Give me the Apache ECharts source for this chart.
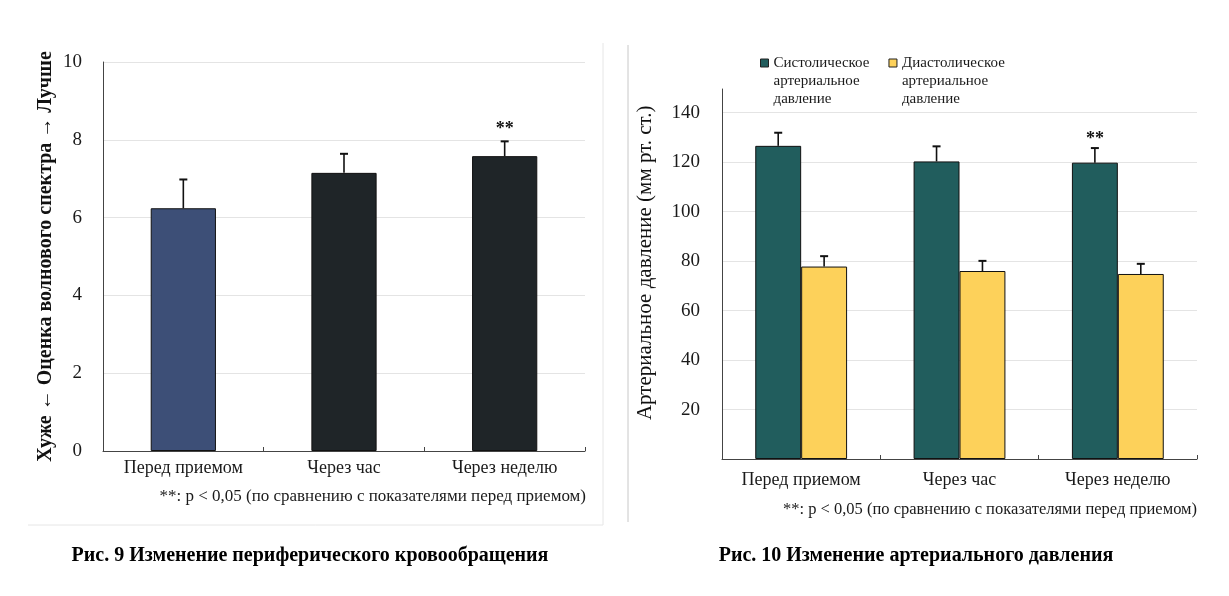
<!DOCTYPE html>
<html>
<head>
<meta charset="utf-8">
<script src="https://cdn.jsdelivr.net/npm/echarts@6/dist/echarts.min.js"></script>
<style>
html,body{margin:0;padding:0;background:#fff;}
#chart{width:1229px;height:596px;}
</style>
</head>
<body>
<div id="chart"></div>
<script>
// ---------- Data ----------
const categories = ['Перед приемом', 'Через час', 'Через неделю'];

// Fig. 9: peripheral circulation (wave spectrum score)
const waveMean = [6.24, 7.15, 7.58];
const waveErr  = [0.74, 0.49, 0.38];
const waveSig  = ['', '', '**'];
const waveColors = ['#3d4f77', '#1f2528', '#1f2528'];
const leftTicks = [0, 2, 4, 6, 8, 10];

// Fig. 10: blood pressure
const sysName = 'Систолическое\nартериальное\nдавление';
const diaName = 'Диастолическое\nартериальное\nдавление';
const sysMean = [126.6, 120.3, 119.8];
const sysErr  = [5.3, 6.1, 5.9];
const sysSig  = ['', '', '**'];
const diaMean = [77.8, 76.0, 74.8];
const diaErr  = [4.2, 4.1, 4.1];
const diaSig  = ['', '', ''];
const rightTicks = [0, 20, 40, 60, 80, 100, 120, 140];

const footnote = '**: p < 0,05 (по сравнению с показателями перед приемом)';
const caption9 = 'Рис. 9 Изменение периферического кровообращения';
const caption10 = 'Рис. 10 Изменение артериального давления';

// ---------- Helpers ----------
const FONT = '"Liberation Serif", "DejaVu Serif", serif';
const TXT = '#1a1a1a';

function errRenderer(offsetFrac, sigArr, capHalf, sigGap) {
  return function (params, api) {
    const i = api.value(0), v = api.value(1), e = api.value(2);
    const base = api.coord([i, v]);
    const top = api.coord([i, v + e]);
    const bw = api.size([1, 0])[0];
    const x = base[0] + offsetFrac * bw;
    const children = [
      { type: 'line', shape: { x1: x, y1: base[1], x2: x, y2: top[1] },
        style: { stroke: '#111', lineWidth: 1.6 } },
      { type: 'line', shape: { x1: x - capHalf, y1: top[1], x2: x + capHalf, y2: top[1] },
        style: { stroke: '#111', lineWidth: 2 } }
    ];
    const s = sigArr[params.dataIndex];
    if (s) {
      children.push({ type: 'text', style: {
        text: s, x: x, y: top[1] - sigGap, align: 'center', verticalAlign: 'bottom',
        font: 'bold 18px ' + FONT, fill: '#111' } });
    }
    return { type: 'group', children: children };
  };
}

function errData(mean, err) {
  return mean.map((m, i) => [i, m, err[i]]);
}

const axisLineStyle = { color: '#444', width: 1 };
const gridLineStyle = { color: '#e4e4e4', width: 1 };

const chart = echarts.init(document.getElementById('chart'), null, { renderer: 'canvas' });

const option = {
  backgroundColor: '#ffffff',
  animation: false,
  textStyle: { fontFamily: FONT },
  legend: {
    data: [sysName, diaName],
    left: 760, top: 18, padding: 0,
    itemWidth: 8, itemHeight: 8, itemGap: 19,
    icon: 'rect',
    itemStyle: { borderColor: '#222', borderWidth: 1 },
    // two empty lines on top so the first text line sits level with the icon
    formatter: name => '\n\n' + name,
    textStyle: { fontFamily: FONT, fontSize: 15, color: TXT, lineHeight: 18 },
    selectedMode: false
  },
  grid: [
    { left: 103, top: 62, width: 482, height: 389 },
    { left: 722, top: 112.7, width: 475, height: 346.3 },
    { left: 722, top: 89, width: 475, height: 370 }
  ],
  xAxis: [
    { type: 'category', gridIndex: 0, data: categories,
      axisLine: { lineStyle: axisLineStyle },
      axisTick: { show: true, inside: true, length: 4, lineStyle: axisLineStyle },
      axisLabel: { fontFamily: FONT, fontSize: 18, color: TXT, margin: 8 } },
    { type: 'category', gridIndex: 1, data: categories,
      axisLine: { lineStyle: axisLineStyle },
      axisTick: { show: true, inside: true, length: 4, lineStyle: axisLineStyle },
      axisLabel: { fontFamily: FONT, fontSize: 18, color: TXT, margin: 12 } },
    { type: 'category', gridIndex: 2, data: categories, show: false }
  ],
  yAxis: [
    { type: 'value', gridIndex: 0, min: leftTicks[0], max: leftTicks[leftTicks.length - 1], interval: 2,
      axisLine: { show: true, lineStyle: axisLineStyle },
      axisTick: { show: false },
      splitLine: { show: true, lineStyle: gridLineStyle },
      axisLabel: { fontFamily: FONT, fontSize: 19, color: TXT, margin: 21 },
      name: 'Хуже ← Оценка волнового спектра → Лучше',
      nameLocation: 'middle', nameGap: 47,
      nameTextStyle: { fontFamily: FONT, fontSize: 20, fontWeight: 'bold', color: '#111' } },
    { type: 'value', gridIndex: 1, min: rightTicks[0], max: rightTicks[rightTicks.length - 1], interval: 20,
      axisLine: { show: false },
      axisTick: { show: false },
      splitLine: { show: true, lineStyle: gridLineStyle },
      axisLabel: { fontFamily: FONT, fontSize: 19, color: TXT, margin: 22,
        formatter: v => (v === 0 ? '' : String(v)) },
      name: 'Артериальное давление (мм рт. ст.)',
      nameLocation: 'middle', nameGap: 66,
      nameTextStyle: { fontFamily: FONT, fontSize: 21, color: '#111', padding: [0, 0, 0, 46] } },
    { type: 'value', gridIndex: 2, min: 0, max: 1,
      axisLine: { show: true, lineStyle: axisLineStyle },
      axisTick: { show: false }, axisLabel: { show: false }, splitLine: { show: false } }
  ],
  series: [
    { type: 'bar', name: 'wave', xAxisIndex: 0, yAxisIndex: 0, barWidth: '40.6%',
      data: waveMean.map((v, i) => ({ value: v, itemStyle: { color: waveColors[i] } })),
      itemStyle: { borderColor: '#111', borderWidth: 1 } },
    { type: 'custom', xAxisIndex: 0, yAxisIndex: 0, z: 5,
      renderItem: errRenderer(0, waveSig, 4, 3),
      data: errData(waveMean, waveErr) },
    { type: 'bar', name: sysName, xAxisIndex: 1, yAxisIndex: 1,
      barCategoryGap: '42%', barGap: '0%',
      itemStyle: { color: '#215d5d', borderColor: '#111', borderWidth: 1 },
      data: sysMean },
    { type: 'bar', name: diaName, xAxisIndex: 1, yAxisIndex: 1,
      barCategoryGap: '42%', barGap: '0%',
      itemStyle: { color: '#fdd15a', borderColor: '#111', borderWidth: 1 },
      data: diaMean },
    { type: 'custom', xAxisIndex: 1, yAxisIndex: 1, z: 5,
      renderItem: errRenderer(-0.145, sysSig, 4, 0),
      data: errData(sysMean, sysErr) },
    { type: 'custom', xAxisIndex: 1, yAxisIndex: 1, z: 5,
      renderItem: errRenderer(0.145, diaSig, 4, 0),
      data: errData(diaMean, diaErr) }
  ],
  graphic: [
    { type: 'line', shape: { x1: 603, y1: 43, x2: 603, y2: 525 }, style: { stroke: '#e6e6e6', lineWidth: 1 } },
    { type: 'line', shape: { x1: 28, y1: 525, x2: 603, y2: 525 }, style: { stroke: '#e6e6e6', lineWidth: 1 } },
    { type: 'line', shape: { x1: 628, y1: 45, x2: 628, y2: 522 }, style: { stroke: '#c8c8c8', lineWidth: 1 } },
    { type: 'text', style: { text: footnote, x: 586, y: 497, align: 'right', verticalAlign: 'middle',
        font: '17px ' + FONT, fill: TXT } },
    { type: 'text', style: { text: footnote, x: 1197, y: 510, align: 'right', verticalAlign: 'middle',
        font: '16.5px ' + FONT, fill: TXT } },
    { type: 'text', style: { text: caption9, x: 310, y: 556, align: 'center', verticalAlign: 'middle',
        font: 'bold 20px ' + FONT, fill: '#000' } },
    { type: 'text', style: { text: caption10, x: 916, y: 556, align: 'center', verticalAlign: 'middle',
        font: 'bold 20px ' + FONT, fill: '#000' } }
  ]
};

chart.setOption(option);
</script>
</body>
</html>
